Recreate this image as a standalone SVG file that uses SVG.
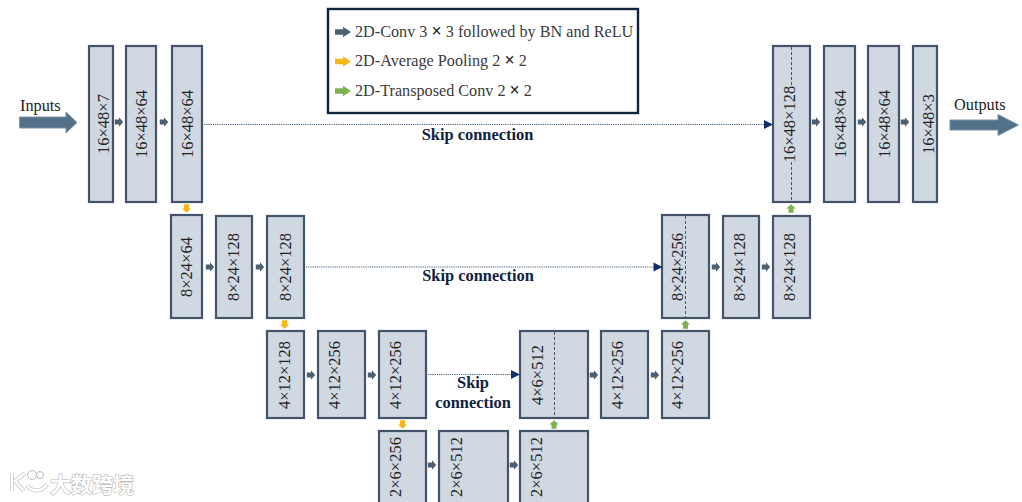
<svg xmlns="http://www.w3.org/2000/svg" width="1022" height="502" viewBox="0 0 1022 502">
<style>
.b{fill:#d0d8e2;stroke:#44546a;stroke-width:2.2}
text{font-family:"Liberation Serif","Noto Sans CJK SC",serif;fill:#1a1a1a}
.l{font-size:16.5px;text-anchor:middle;fill:#222}
.k{font-size:16.400px;font-weight:bold;fill:#10243f;text-anchor:middle}
.t{font-size:16.300px;fill:#222}
.g{font-size:16.200px;fill:#3b3b3b}
.x{font-weight:bold;font-size:18px;fill:#222}
.sk{stroke:#44607f;stroke-width:1;stroke-dasharray:1.2 1;fill:none}
.d{stroke:#44546a;stroke-width:1;stroke-dasharray:3 2;fill:none}
.wm{font-size:21px;font-weight:bold;font-family:"Noto Sans CJK SC",sans-serif;fill:#fff;stroke:#b8b8b8;stroke-width:1.2;paint-order:stroke}
</style>
<defs>
<path id="a" d="M-4.200-2.500H0V-4.700L4.200 0 0 4.700V2.500H-4.200Z"/>
<path id="n" d="M-4.500-4.500L4.500 0-4.500 4.500Z" fill="#12306a"/>
</defs>

<g id="legend">
<rect x="328" y="9" width="310" height="104" fill="#fff" stroke="#10243f" stroke-width="2.400"/>
<use href="#a" transform="translate(343,32) scale(1.9,1.100)" fill="#4d6070"/>
<use href="#a" transform="translate(343,61.500) scale(1.9,1.100)" fill="#f6b71c"/>
<use href="#a" transform="translate(343,91) scale(1.9,1.100)" fill="#7fb04f"/>
<text class="g" x="355" y="36.500">2D-Conv 3 <tspan class="x">×</tspan> 3 followed by BN and ReLU</text>
<text class="g" x="355" y="66">2D-Average Pooling 2 <tspan class="x">×</tspan> 2</text>
<text class="g" x="355" y="95.500">2D-Transposed Conv 2 <tspan class="x">×</tspan> 2</text>
</g>

<g id="n1"><rect class="b" x="89" y="46" width="24" height="156"/><text class="l" transform="translate(109,124) rotate(-90)">16×48×7</text></g>
<g id="n2"><rect class="b" x="126" y="46" width="30" height="156"/><text class="l" transform="translate(146.500,124) rotate(-90)">16×48×64</text></g>
<g id="n3"><rect class="b" x="172" y="46" width="30" height="156"/><text class="l" transform="translate(192.500,124) rotate(-90)">16×48×64</text></g>
<g id="n4"><rect class="b" x="773" y="46" width="37" height="156"/><path class="d" d="M791.500 47V201"/><rect x="782" y="85" width="16" height="77" fill="#d0d8e2"/><text class="l" transform="translate(795,124) rotate(-90)">16×48×128</text></g>
<g id="n5"><rect class="b" x="824" y="46" width="31" height="156"/><text class="l" transform="translate(846,124) rotate(-90)">16×48×64</text></g>
<g id="n6"><rect class="b" x="868" y="46" width="31" height="156"/><text class="l" transform="translate(890,124) rotate(-90)">16×48×64</text></g>
<g id="n7"><rect class="b" x="913" y="46" width="24" height="156"/><text class="l" transform="translate(934,124) rotate(-90)">16×48×3</text></g>

<g id="n8"><rect class="b" x="171" y="215" width="31" height="103"/><text class="l" transform="translate(192,267) rotate(-90)">8×24×64</text></g>
<g id="n9"><rect class="b" x="216" y="216" width="36" height="102"/><text class="l" transform="translate(239,267) rotate(-90)">8×24×128</text></g>
<g id="n10"><rect class="b" x="267" y="216" width="37" height="102"/><text class="l" transform="translate(291,267) rotate(-90)">8×24×128</text></g>
<g id="n11"><rect class="b" x="662" y="215" width="47" height="103"/><path class="d" d="M685.500 216V317"/><text class="l" transform="translate(683,267) rotate(-90)">8×24×256</text></g>
<g id="n12"><rect class="b" x="723" y="216" width="36" height="102"/><text class="l" transform="translate(745,267) rotate(-90)">8×24×128</text></g>
<g id="n13"><rect class="b" x="773" y="216" width="37" height="102"/><text class="l" transform="translate(795,267) rotate(-90)">8×24×128</text></g>

<g id="n14"><rect class="b" x="267" y="331" width="37" height="87"/><text class="l" transform="translate(290,375) rotate(-90)">4×12×128</text></g>
<g id="n15"><rect class="b" x="318" y="331" width="47" height="87"/><text class="l" transform="translate(340,375) rotate(-90)">4×12×256</text></g>
<g id="n16"><rect class="b" x="379" y="331" width="47" height="87"/><text class="l" transform="translate(401,375) rotate(-90)">4×12×256</text></g>
<g id="n17"><rect class="b" x="520" y="331" width="68" height="87"/><path class="d" d="M554.500 332V417"/><text class="l" transform="translate(542.500,375) rotate(-90)">4×6×512</text></g>
<g id="n18"><rect class="b" x="601" y="331" width="47" height="87"/><text class="l" transform="translate(623,375) rotate(-90)">4×12×256</text></g>
<g id="n19"><rect class="b" x="662" y="331" width="47" height="87"/><text class="l" transform="translate(683,375) rotate(-90)">4×12×256</text></g>

<g id="n20"><rect class="b" x="379" y="431" width="47" height="80"/><text class="l" transform="translate(401,467) rotate(-90)">2×6×256</text></g>
<g id="n21"><rect class="b" x="439" y="431" width="69" height="80"/><text class="l" transform="translate(462,467) rotate(-90)">2×6×512</text></g>
<g id="n22"><rect class="b" x="520" y="431" width="68" height="80"/><text class="l" transform="translate(542,467) rotate(-90)">2×6×512</text></g>

<g id="connectors">
<g fill="#4d6070">
<use href="#a" x="119" y="122"/><use href="#a" x="164" y="122"/>
<use href="#a" x="816" y="122"/><use href="#a" x="862" y="122"/><use href="#a" x="905" y="122"/>
<use href="#a" x="210" y="267"/><use href="#a" x="260" y="267"/>
<use href="#a" x="716" y="267"/><use href="#a" x="766" y="267"/>
<use href="#a" x="311" y="375"/><use href="#a" x="372" y="375"/>
<use href="#a" x="594" y="375"/><use href="#a" x="655" y="375"/>
<use href="#a" x="432" y="465"/><use href="#a" x="514" y="465"/>
</g>
<g fill="#f6b71c">
<use href="#a" transform="translate(186.500,208.500) rotate(90)"/>
<use href="#a" transform="translate(284.500,324.500) rotate(90)"/>
<use href="#a" transform="translate(402.500,424.500) rotate(90)"/>
</g>
<g fill="#7fb04f">
<use href="#a" transform="translate(791,208.500) rotate(-90)"/>
<use href="#a" transform="translate(685.500,324.500) rotate(-90)"/>
<use href="#a" transform="translate(554,424.500) rotate(-90)"/>
</g>
<path class="sk" d="M204 124.500H766"/><use href="#n" x="768.500" y="124.500"/>
<path class="sk" d="M306 267H654"/><use href="#n" x="658" y="267"/>
<path class="sk" d="M428 374.500H512"/><use href="#n" x="515.500" y="374.500"/>
<path d="M19.500 117H66V112L77 122.500 66 133V128H19.500Z" fill="#527087" stroke="#7b93a6"/>
<path d="M950 120H998V114.500L1018.500 125 998 135.500V130H950Z" fill="#527087" stroke="#7b93a6"/>
</g>

<g id="labels">
<text class="t" x="20" y="111">Inputs</text>
<text class="t" x="954" y="110">Outputs</text>
<text class="k" x="477.500" y="140">Skip connection</text>
<text class="k" x="478" y="281">Skip connection</text>
<text class="k" x="473" y="388">Skip</text>
<text class="k" x="473" y="408">connection</text>
</g>

<g id="watermark">
<path d="M12 473V491M25 473L15 481 24 491M27 485C31 492 42 493 47 484" fill="none" stroke="#bdbdbd" stroke-width="4"/>
<path d="M12 473V491M25 473L15 481 24 491M27 485C31 492 42 493 47 484" fill="none" stroke="#fff" stroke-width="2.600"/>
<circle cx="32" cy="475" r="4.500" fill="#fff" stroke="#bdbdbd"/><circle cx="40" cy="475" r="3.500" fill="#fff" stroke="#bdbdbd"/>
<text class="wm" x="50" y="492">大数跨境</text>
</g>
</svg>
